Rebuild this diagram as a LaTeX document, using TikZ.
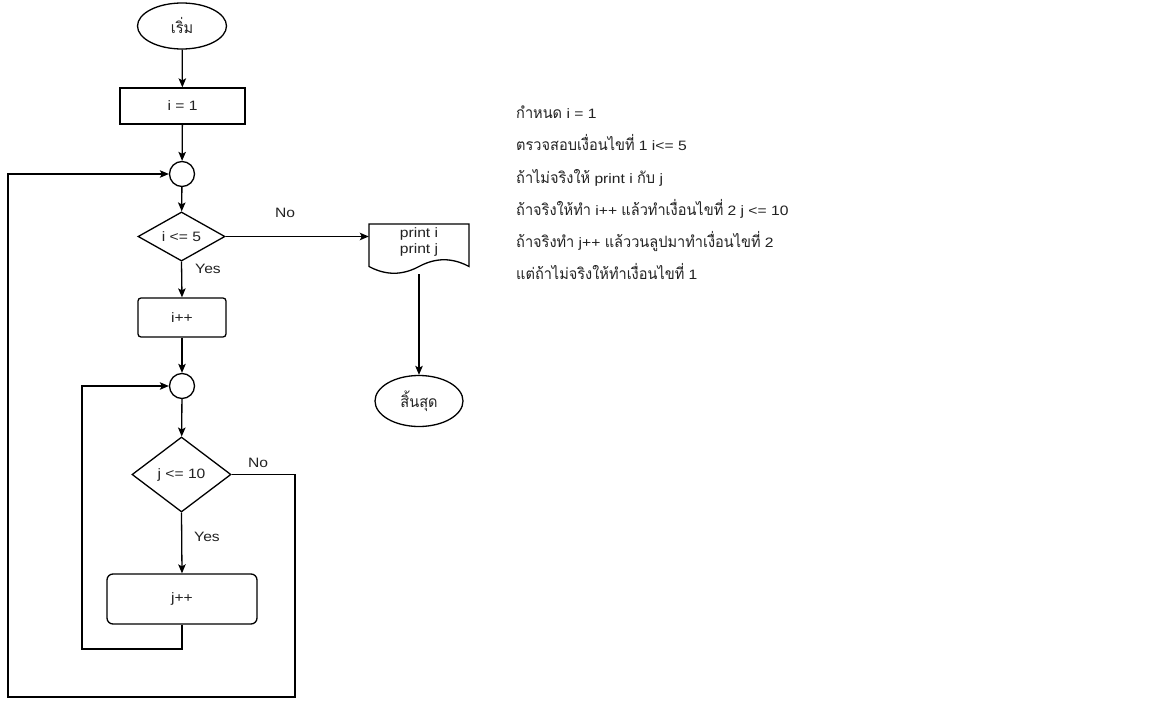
\documentclass[tikz,border=0pt]{standalone}
\usepackage{fontspec}
\setmainfont{Liberation Sans}[FakeStretch=1.15]
\newfontfamily\thai[Script=Thai,Scale=1.15,FakeStretch=0.93]{Loma}
\usetikzlibrary{arrows.meta,shapes.geometric}
\definecolor{ink}{HTML}{222222}
\begin{document}
\begin{tikzpicture}[x=1pt,y=-1pt,
  every node/.style={font=\fontsize{13.6}{16}\selectfont, text=ink},
  line/.style={draw=black, line width=1.3pt},
  arr/.style={line, -{Stealth[length=9pt,width=7.5pt,inset=2pt]}},
  term/.style={ellipse, draw=black, line width=1.3pt, minimum width=89pt, minimum height=46pt, inner sep=0pt},
  proc/.style={rectangle, draw=black, line width=1.3pt, inner sep=0pt},
  dec/.style={diamond, draw=black, line width=1.3pt, inner sep=0pt},
  conn/.style={circle, draw=black, line width=1.3pt, minimum size=25pt, inner sep=0pt},
  docbox/.style={rectangle, minimum width=100pt, minimum height=50pt, inner sep=0pt},
  txt/.style={inner sep=0pt},
  desc/.style={inner sep=0pt, anchor=base west}
]
\useasboundingbox[fill=white] (0,0) rectangle (1152,709);

% nodes
\node[term] (start) at (182,26) {\thai เริ่ม};
\node[proc, minimum width=125pt, minimum height=36pt] (init) at (182.5,106) {i = 1};
\node[conn] (c1) at (182,174) {};
\node[dec, minimum width=87pt, minimum height=49pt] (d1) at (181.5,236.5) {i <= 5};
\node[docbox] (doc) at (419,249) {};
\draw[line] (369,224) -- (469,224) -- (469,266.5)
  .. controls (452.3,257.5) and (435.7,257.5) .. (419,266.5)
  .. controls (402.3,275.5) and (385.7,275.5) .. (369,266.5) -- cycle;
\node[txt, align=center] (doctext) at ([yshift=7pt]doc.center) {print i\\print j};
\node[term, minimum width=88pt, minimum height=51pt] (end) at (419,401) {\thai สิ้นสุด};
\node[proc, rounded corners=3pt, minimum width=88pt, minimum height=39pt] (ipp) at (182,317.5) {i++};
\node[conn] (c2) at (182,386) {};
\node[dec, minimum width=99pt, minimum height=75pt] (d2) at (181.5,474.5) {j <= 10};
\node[proc, rounded corners=6pt, minimum width=150pt, minimum height=50pt] (jpp) at (182,599) {j++};

% labels
\node[txt] (no1) at (285,213) {No};
\node[txt] (yes1) at (208,269) {Yes};
\node[txt] (no2) at (258,463) {No};
\node[txt] (yes2) at (207,537) {Yes};

% corner coordinates
\coordinate (r1) at (295,474.5);
\coordinate (r3) at (8,697);
\coordinate (l1) at (82,649);

% connectors
\draw[arr] (start) -- (init);
\draw[arr] (init) -- (c1);
\draw[arr] (c1) -- (d1);
\draw[arr] (d1.east) -- (d1.east -| doc.west);
\draw[arr] (doc.south) -- (end.north);
\draw[arr] (d1.south) -- (ipp.north);
\draw[arr] (ipp) -- (c2);
\draw[arr] (c2) -- (d2);
\draw[arr] (d2.south) -- (jpp.north);
\draw[arr] (jpp.south) |- (l1) |- (c2.west);
\draw[arr] (d2.east) -- (r1) |- (r3) |- (c1.west);

% description text
\node[desc] (t1) at (516,118) {{\thai กำหนด} i = 1};
\node[desc] (t2) at (516,150) {{\thai ตรวจสอบเงื่อนไขที่} 1 i<= 5};
\node[desc] (t3) at (516,183) {{\thai ถ้าไม่จริงให้} print i {\thai กับ} j};
\node[desc] (t4) at (516,215) {{\thai ถ้าจริงให้ทำ} i++ {\thai แล้วทำเงื่อนไขที่} 2 j <= 10};
\node[desc] (t5) at (516,247) {{\thai ถ้าจริงทำ} j++ {\thai แล้ววนลูปมาทำเงื่อนไขที่} 2};
\node[desc] (t6) at (516,279) {{\thai แต่ถ้าไม่จริงให้ทำเงื่อนไขที่} 1};
\end{tikzpicture}
\end{document}
